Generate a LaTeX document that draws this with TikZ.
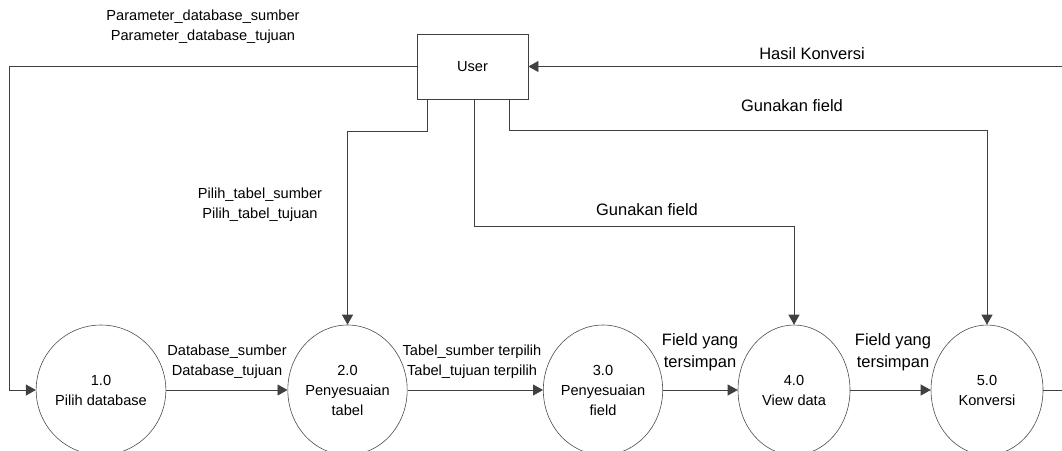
\documentclass[tikz,border=0pt]{standalone}
\usepackage{fontspec}
\setmainfont{Liberation Sans}
\usetikzlibrary{shapes.geometric,arrows.meta}
\tikzset{
  small/.style={font=\fontsize{14.6}{20}\selectfont, align=center},
  large/.style={font=\fontsize{16.5}{22}\selectfont, align=center},
  proc/.style={ellipse, draw=black!70, line width=0.6pt, minimum width=112pt,
    minimum height=130pt, inner sep=0pt, small},
  flow/.style={draw=black!75, line width=0.8pt},
  arr/.style={flow, -{Triangle[length=10pt,width=11pt]}},
}
\begin{document}
\begin{tikzpicture}[x=1pt,y=-1pt]
\useasboundingbox (0,0) rectangle (1062,450);

% external entity
\node[draw=black!75, line width=0.8pt, minimum width=111pt, minimum height=65pt,
  inner sep=0pt, small] (user) at (472.5,66.5) {User};

% processes
\node[proc] (c1) at (101,390) {1.0\\Pilih database};
\node[proc] (c2) at (347.5,390) {2.0\\Penyesuaian\\tabel};
\node[proc] (c3) at (603,390) {3.0\\Penyesuaian\\field};
\node[proc] (c4) at (794,390) {4.0\\View data};
\node[proc] (c5) at (987,390) {5.0\\Konversi};

% bend points
\coordinate (lt) at (9,66.5);
\coordinate (lb) at (9,390);
\coordinate (d1) at (427,131);
\coordinate (d2) at (474.5,226);
\coordinate (d3) at (509,130);
\coordinate (rout) at (1062,390);
\coordinate (rin) at (1062,66.5);

% flows
\draw[arr] (user.west) -- (lt) -- (lb) -- (c1.west);
\draw[arr] (c1.east) -- (c2.west);
\draw[arr] (c2.east) -- (c3.west);
\draw[arr] (c3.east) -- (c4.west);
\draw[arr] (c4.east) -- (c5.west);
\draw[flow] (c5.east) -- (rout);
\draw[arr] (rin) -- (user.east);
\draw[arr] (user.south -| d1) -- (d1) -| (c2.north);
\draw[arr] (user.south -| d2) -- (d2) -| (c4.north);
\draw[arr] (user.south -| d3) -- (d3) -| (c5.north);

% flow labels
\node[small] (lpar) at (203,27) {Parameter\_database\_sumber\\Parameter\_database\_tujuan};
\node[large] (lhas) at (812,54) {Hasil Konversi};
\node[large] (lgu1) at (792,106) {Gunakan field};
\node[large] (lgu2) at (647,210) {Gunakan field};
\node[small] (lpil) at (260,205) {Pilih\_tabel\_sumber\\Pilih\_tabel\_tujuan};
\node[small] (ldb) at (227,362) {Database\_sumber\\Database\_tujuan};
\node[small] (ltab) at (472,362) {Tabel\_sumber terpilih\\Tabel\_tujuan terpilih};
\node[large] (lfy1) at (700,352) {Field yang\\tersimpan};
\node[large] (lfy2) at (893,352) {Field yang\\tersimpan};
\end{tikzpicture}
\end{document}
